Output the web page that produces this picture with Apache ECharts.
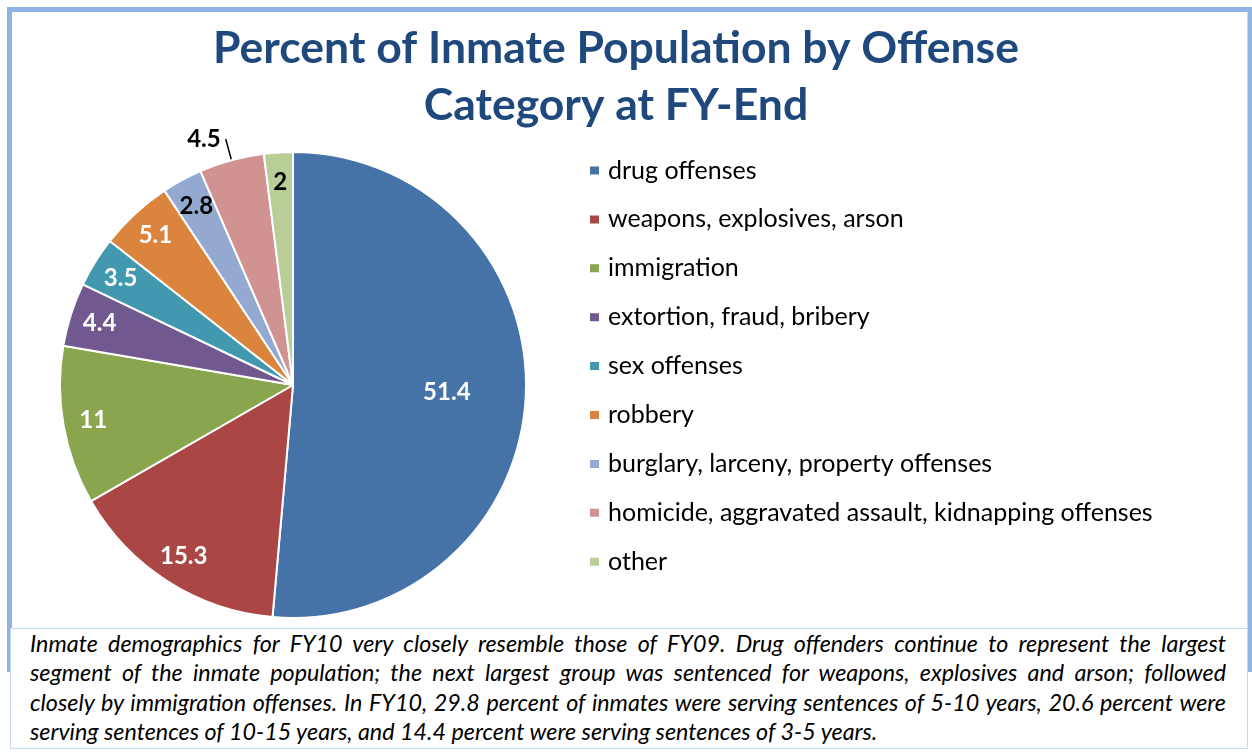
<!DOCTYPE html>
<html>
<head>
<meta charset="utf-8">
<title>Percent of Inmate Population by Offense Category at FY-End</title>
<script src="https://cdn.jsdelivr.net/npm/echarts@6/dist/echarts.min.js"></script>
<style>
  html, body { margin: 0; padding: 0; background: #fff; }
  #wrap { position: relative; width: 1252px; height: 752px; overflow: hidden; }
  #chart { position: absolute; left: 0; top: 0; width: 1252px; height: 752px; }
  #caption {
    position: absolute; left: 10px; top: 628px; width: 1238px; height: 121px;
    background: #fff; border: 1px solid #c9dbf1; box-sizing: border-box;
    padding: 0 21px 0 19px;
    font-family: Lato, "Open Sans", sans-serif; font-style: italic; font-size: 23.3px;
    line-height: 29.3px; color: #000;
  }
  #caption .j { text-align: justify; text-align-last: justify; white-space: nowrap; }
</style>
</head>
<body>
<div id="wrap">
  <div id="chart"></div>
  <div id="caption">
    <div class="j">Inmate demographics for FY10 very closely resemble those of FY09. Drug offenders continue to represent the largest</div>
    <div class="j">segment of the inmate population; the next largest group was sentenced for weapons, explosives and arson; followed</div>
    <div class="j">closely by immigration offenses. In FY10, 29.8 percent of inmates were serving sentences of 5-10 years, 20.6 percent were</div>
    <div>serving sentences of 10-15 years, and 14.4 percent were serving sentences of 3-5 years.</div>
  </div>
</div>
<script>
var categories = [
  'drug offenses',
  'weapons, explosives, arson',
  'immigration',
  'extortion, fraud, bribery',
  'sex offenses',
  'robbery',
  'burglary, larceny, property offenses',
  'homicide, aggravated assault, kidnapping offenses',
  'other'
];
var percents = [51.4, 15.3, 11, 4.4, 3.5, 5.1, 2.8, 4.5, 2];

var palette = ['#4572a7', '#aa4643', '#89a54e', '#71588f', '#4198af', '#db843d', '#93a9cf', '#d19392', '#b9cd96'];
var darkLabel = [false, false, false, false, false, false, true, true, true];

(function () {
  var font = 'Lato, "Open Sans", sans-serif';
  var chart = echarts.init(document.getElementById('chart'), null, { renderer: 'canvas' });

  var center = [293, 385];
  var R = 233;

  // main slices; only the thin pink one gets an outside label
  var mainData = categories.map(function (name, i) {
    return {
      name: name,
      value: percents[i],
      label: { show: i === 7 },
      labelLine: { show: i === 7 }
    };
  });

  // transparent copies, used only to place the inside labels at Excel-like radii
  function labelRing(show) {
    return categories.map(function (name, i) {
      return {
        name: name,
        value: percents[i],
        itemStyle: { color: 'rgba(0,0,0,0)', borderWidth: 0 },
        label: { show: show(i), color: darkLabel[i] ? '#000' : '#fff' }
      };
    });
  }

  var labelStyle = { fontFamily: font, fontWeight: 'bold', fontSize: 24, formatter: '{c}' };

  chart.setOption({
    animation: false,
    color: palette,
    title: {
      text: 'Percent of Inmate Population by Offense\nCategory at FY-End',
      left: 611,
      top: 15,
      textAlign: 'center',
      textStyle: { fontFamily: font, fontWeight: 'bold', fontSize: 44.5, lineHeight: 57, color: '#1f497d' }
    },
    legend: {
      orient: 'vertical',
      left: 583,
      top: 153,
      data: categories,
      icon: 'rect',
      itemWidth: 11,
      itemHeight: 10,
      itemGap: 23.9,
      selectedMode: false,
      textStyle: { fontFamily: font, fontSize: 25, color: '#000', padding: [0, 0, 0, 3] }
    },
    graphic: [{
      type: 'rect',
      silent: true,
      shape: { x: 9.5, y: 9.5, width: 1240.5, height: 660 },
      style: { fill: 'none', stroke: '#8eb4e3', lineWidth: 5 }
    }],
    series: [
      {
        type: 'pie',
        center: center,
        radius: [0, R],
        startAngle: 90,
        clockwise: true,
        avoidLabelOverlap: false,
        itemStyle: { borderColor: '#fff', borderWidth: 2 },
        label: Object.assign({ position: 'outside', color: '#000' }, labelStyle),
        labelLine: { length: 22, length2: 0, lineStyle: { color: '#000', width: 1.5 } },
        data: mainData
      },
      {
        type: 'pie',
        silent: true,
        center: center,
        radius: [69, R],
        startAngle: 90,
        label: Object.assign({ position: 'inside' }, labelStyle),
        labelLine: { show: false },
        data: labelRing(function (i) { return i === 0; })
      },
      {
        type: 'pie',
        silent: true,
        center: center,
        radius: [167, R],
        startAngle: 90,
        label: Object.assign({ position: 'inside' }, labelStyle),
        labelLine: { show: false },
        data: labelRing(function (i) { return i > 0 && i !== 7; })
      }
    ]
  });

  window.addEventListener('resize', function () { chart.resize(); });
})();
</script>
</body>
</html>
